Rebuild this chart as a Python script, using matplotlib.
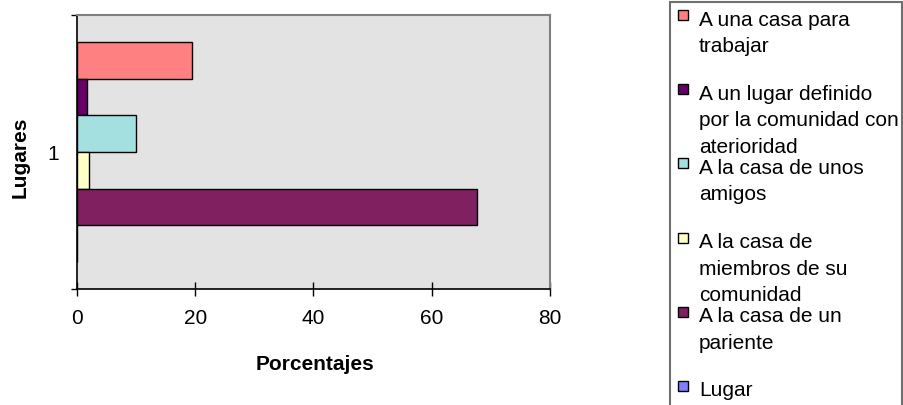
import matplotlib
matplotlib.use("Agg")
import matplotlib.pyplot as plt
from matplotlib.patches import Rectangle
import numpy as np

plt.rcParams['font.family'] = ['Liberation Sans', 'DejaVu Sans']

# Data (one category "1", six series)
lugares = [
    "A una casa para\ntrabajar",
    "A un lugar definido\npor la comunidad con\naterioridad",
    "A la casa de unos\namigos",
    "A la casa de\nmiembros de su\ncomunidad",
    "A la casa de un\npariente",
    "Lugar",
]
porcentajes = [19.5, 1.7, 9.9, 2.0, 67.6, 0.0]
colores = ["#FF8080", "#660066", "#A5E0E0", "#FFFFC8", "#802060", "#8080FF"]
categorias = ["1"]
x_ticks = [0, 20, 40, 60, 80]

W, H = 904, 406
fig = plt.figure(figsize=(W / 100, H / 100), dpi=100)

# plot area in pixels: left 77, right 550, top 16, bottom 290
ax = fig.add_axes([77 / W, (H - 290) / H, (550 - 77) / W, (290 - 16) / H])
ax.set_facecolor("#E3E3E3")

n = len(porcentajes)
bh = 0.8 / n
for i, (v, c) in enumerate(zip(porcentajes, colores)):
    ax.barh((i - (n - 1) / 2) * bh, v, height=bh, color=c,
            edgecolor="black", linewidth=1.0)

ax.set_xlim(0, 80)
ax.set_ylim(0.5, -0.5)
ax.set_xticks(x_ticks)
ax.set_xticklabels([str(t) for t in x_ticks], fontsize=15)
ax.tick_params(axis="x", direction="inout", length=9.5, width=1.0, pad=9)

ax.set_yticks([0])
ax.set_yticklabels(categorias, fontsize=15)
ax.tick_params(axis="y", which="major", length=0, pad=13)
ax.set_yticks([-0.5, 0.5], minor=True)
ax.tick_params(axis="y", which="minor", direction="out", length=4.5, width=1.0)

for s in ["top", "right"]:
    ax.spines[s].set_color("#808080")
    ax.spines[s].set_linewidth(1.5)
for s in ["left", "bottom"]:
    ax.spines[s].set_color("black")
    ax.spines[s].set_linewidth(1.2)

ax.set_xlabel("Porcentajes", fontsize=15, fontweight="bold", va="center")
ax.xaxis.set_label_coords(0.503, (290 - 365) / 274)
ax.set_ylabel("Lugares", fontsize=15, fontweight="bold", va="center")
ax.yaxis.set_label_coords((20 - 77) / 473, 0.485)

# legend box drawn by hand (Excel-style fixed spacing)
fig.patches.append(Rectangle((670 / W, -0.1), (902 - 670) / W, 0.1 + (H - 3) / H,
                             transform=fig.transFigure, facecolor="white",
                             edgecolor="#707070", linewidth=1.5, zorder=0))
for k, (lab, c) in enumerate(zip(lugares, colores)):
    base = 26 + 74.2 * k
    fig.patches.append(Rectangle((678 / W, (H - base + 5) / H), 10 / W, 10 / H,
                                 transform=fig.transFigure, facecolor=c,
                                 edgecolor="black", linewidth=1.0))
    fig.text(699 / W, (H - base + 15.5) / H, lab, fontsize=15, va="top",
             ha="left", linespacing=1.5)

fig.savefig("out.png", dpi=100)
